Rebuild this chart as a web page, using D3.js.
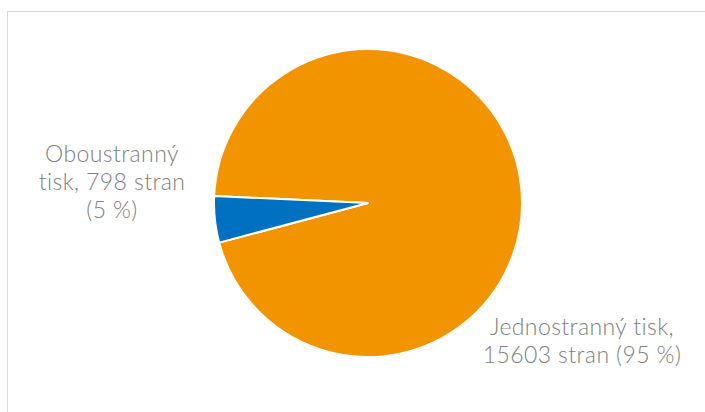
<!DOCTYPE html>
<html lang="cs">
<head>
<meta charset="utf-8">
<title>Tisk</title>
<script src="https://cdn.jsdelivr.net/npm/d3@7"></script>
<style>
  body { margin: 0; background: #fff; }
</style>
</head>
<body>
<script>
var w = 705, h = 412;

var categories = ["Jednostranný tisk", "Oboustranný tisk"];
var pages = [15603, 798];
var colors = ["#F29400", "#0070C0"];

var svg = d3.select("body").append("svg")
  .attr("width", w)
  .attr("height", h);

// chart frame (runs off the right and bottom edge)
svg.append("rect")
  .attr("x", 7.5).attr("y", 11.5)
  .attr("width", 720).attr("height", 420)
  .attr("fill", "none")
  .attr("stroke", "#d9d9d9")
  .attr("stroke-width", 1);

var cx = 368, cy = 203, r = 154;
var start = 272.6 * Math.PI / 180;

var pie = d3.pie().sort(null)
  .startAngle(start)
  .endAngle(start + 2 * Math.PI);
var arc = d3.arc().innerRadius(0).outerRadius(r);

var data = pie(pages);

var g = svg.append("g").attr("transform", "translate(" + cx + "," + cy + ")");
g.selectAll("path")
  .data(data)
  .enter()
  .append("path")
  .attr("d", arc)
  .attr("fill", function (d, i) { return colors[i]; })
  .attr("stroke", "#fff")
  .attr("stroke-width", 2)
  .attr("stroke-linejoin", "round");

var total = d3.sum(pages);
function pct(v) { return Math.round(v / total * 100) + " %"; }

var labels = [
  { x: 582, y: 335, lines: [categories[0] + ",", pages[0] + " stran (" + pct(pages[0]) + ")"] },
  { x: 112, y: 162, lines: ["Oboustranný", "tisk, " + pages[1] + " stran", "(" + pct(pages[1]) + ")"] }
];

// one text element per line
labels.forEach(function (l) {
  svg.selectAll(null)
    .data(l.lines)
    .enter()
    .append("text")
    .attr("x", l.x)
    .attr("y", function (d, i) { return l.y + 28 * i; })
    .attr("text-anchor", "middle")
    .attr("font-family", "Lato, sans-serif")
    .attr("font-size", "23px")
    .attr("font-weight", 300)
    .attr("letter-spacing", "0.4px")
    .attr("fill", "#808080")
    .text(function (d) { return d; });
});
</script>
</body>
</html>
